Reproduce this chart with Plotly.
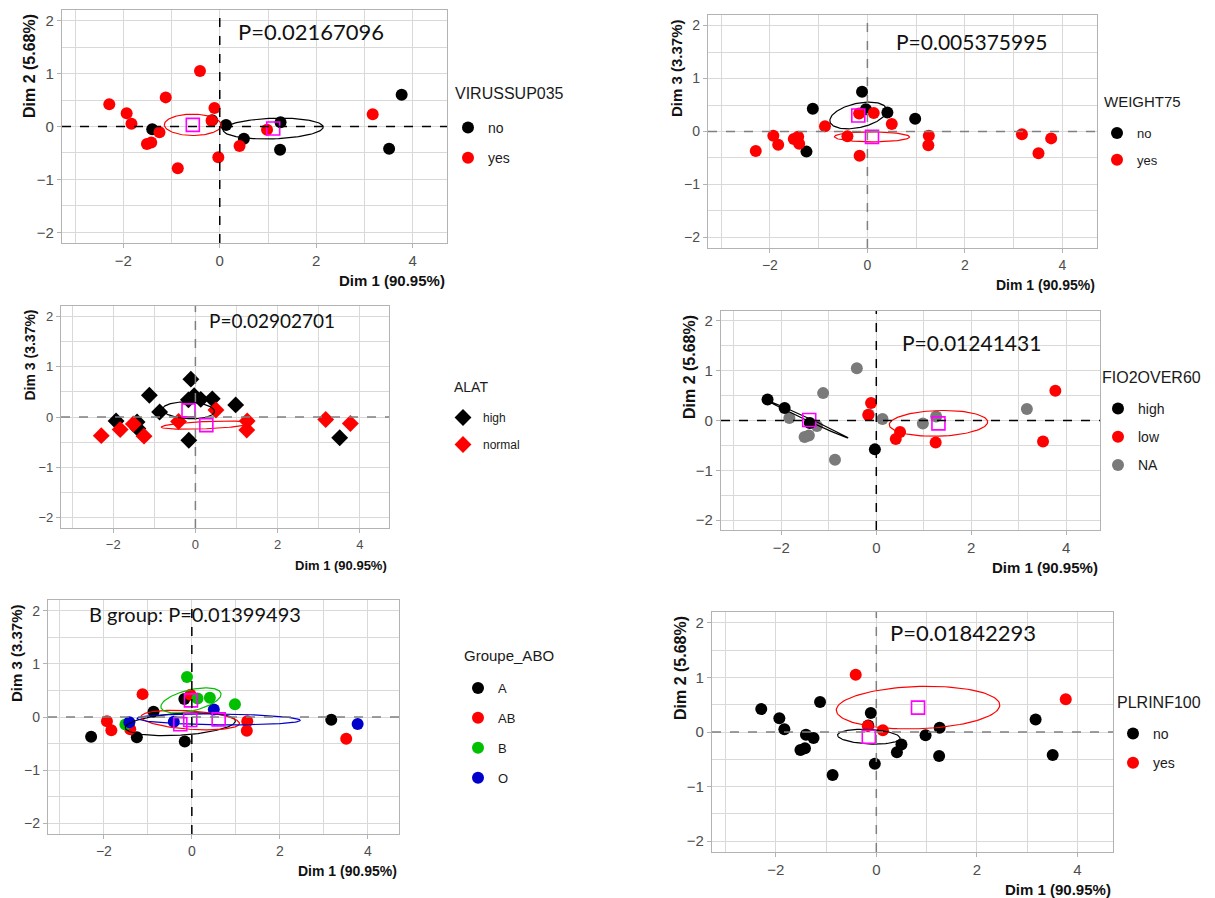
import numpy as np
import plotly.graph_objects as go

# ---------------- data: coordinates of the 23 individuals ----------------
dim1 = [-2.29, -1.93, -1.83, -1.51, -1.42, -1.40, -1.25, -1.12, -0.87, -0.41, -0.11, -0.17,
        -0.16, -0.03, 0.13, 0.41, 0.50, 0.98, 1.26, 1.25, 3.17, 3.51, 3.77]
dim2 = [0.42, 0.25, 0.05, -0.33, -0.30, -0.05, -0.11, 0.55, -0.79, 1.05, 0.35, 0.11,
        0.12, -0.58, 0.03, -0.37, -0.23, -0.06, 0.08, -0.44, 0.23, -0.42, 0.60]
dim3 = [-0.37, -0.08, -0.25, -0.14, -0.10, -0.23, -0.38, 0.43, 0.10, -0.09, 0.75, 0.34,
        -0.46, 0.42, 0.35, 0.36, 0.14, 0.24, -0.08, -0.26, -0.05, -0.41, -0.13]

# ---------------- data: group of each individual per variable ----------------
virussup035 = ["yes", "yes", "yes", "yes", "yes", "no", "yes", "yes", "yes", "yes", "yes", "yes",
               "no", "yes", "no", "yes", "no", "yes", "no", "no", "yes", "no", "no"]
weight75 = ["yes", "yes", "yes", "yes", "yes", "yes", "no", "no", "yes", "yes", "no", "yes",
            "yes", "no", "yes", "no", "yes", "no", "yes", "yes", "yes", "yes", "yes"]
alat = ["normal", "high", "normal", "normal", "high", "high", "normal", "high", "high", "normal",
        "high", "high", "high", "high", "high", "high", "normal", "high", "normal", "normal",
        "normal", "high", "normal"]
fio2over60 = ["high", "high", "NA", "NA", "NA", "high", "NA", "NA", "NA", "NA", "low", "low",
              "NA", "high", "NA", "low", "low", "NA", "NA", "low", "NA", "low", "low"]
groupe_abo = ["A", "AB", "AB", "B", "O", "AB", "A", "AB", "A", "O", "B", "A", "A", "AB", "B", "B",
              "O", "B", "AB", "AB", "A", "AB", "O"]
plrinf100 = ["no", "no", "no", "no", "no", "no", "no", "no", "no", "yes", "no", "yes", "no", "no",
             "yes", "no", "no", "no", "no", "no", "no", "no", "yes"]

p_labels = ["P=0.02167096", "P=0.005375995", "P=0.02902701", "P=0.01241431",
            "B group: P=0.01399493", "P=0.01842293"]

dim_titles = {"dim1": "Dim 1 (90.95%)", "dim2": "Dim 2 (5.68%)", "dim3": "Dim 3 (3.37%)"}
dims = {"dim1": dim1, "dim2": dim2, "dim3": dim3}

# ---------------- styling / layout constants ----------------
W, H = 1215, 898
ELLIPSE_SCALE = 1.65
X_RANGE = [-3.27, 4.71]
Y_RANGE = [-2.2, 2.2]
RED, BLACK, GREY = "#ff0000", "#000000", "#7a7a7a"
GREEN, BLUE = "#00c000", "#0000cd"
MAGENTA = "#ff00ff"
GRID = "#d9d9d9"
BORDER = "#b3b3b3"
FONT = "Liberation Sans, Arial, sans-serif"

# leg = (title left x, title centre y, legend left x, first item y, item gap)
panels = [
    dict(ydim="dim2", var="VIRUSSUP035", groups=virussup035, cats=["no", "yes"],
         colors={"no": BLACK, "yes": RED}, ell=["no", "yes"], symbol="circle", fs=1.0,
         box=(62, 447, 10, 243), ptxt=(0.34, 1.79), zl=(BLACK, BLACK),
         leg=(453, 93, 448, 127, 9)),
    dict(ydim="dim3", var="WEIGHT75", groups=weight75, cats=["no", "yes"],
         colors={"no": BLACK, "yes": RED}, ell=["no", "yes"], symbol="circle", fs=0.96,
         box=(708, 1097, 15, 248), ptxt=(0.55, 1.70), zl=("#808080", "#808080"),
         leg=(1102, 101, 1097, 133, 7)),
    dict(ydim="dim3", var="ALAT", groups=alat, cats=["high", "normal"],
         colors={"high": BLACK, "normal": RED}, ell=["high", "normal"], symbol="diamond", fs=0.85,
         box=(61, 389, 306, 528), ptxt=(0.27, 1.92), zl=("#808080", "#808080"),
         leg=(452, 387, 443, 418, 8)),
    dict(ydim="dim2", var="FIO2OVER60", groups=fio2over60, cats=["high", "low", "NA"],
         colors={"high": BLACK, "low": RED, "NA": GREY}, ell=["high", "low"], symbol="circle",
         fs=0.97, box=(721, 1100, 311, 530), ptxt=(0.50, 1.56), zl=(BLACK, BLACK),
         leg=(1100, 377, 1098, 408, 7)),
    dict(ydim="dim3", var="Groupe_ABO", groups=groupe_abo, cats=["A", "AB", "B", "O"],
         colors={"A": BLACK, "AB": RED, "B": GREEN, "O": BLUE}, ell=["A", "AB", "B", "O"],
         symbol="circle", fs=0.91, box=(48, 399, 600, 834), ptxt=(-2.39, 1.93),
         zl=(BLACK, "#808080"), leg=(462, 655, 458, 688, 10)),
    dict(ydim="dim2", var="PLRINF100", groups=plrinf100, cats=["no", "yes"],
         colors={"no": BLACK, "yes": RED}, ell=["no", "yes"], symbol="circle", fs=1.0,
         box=(712, 1113, 612, 852), ptxt=(0.24, 1.82), zl=("#808080", "#808080"),
         leg=(1115, 702, 1113, 733, 8)),
]


def conf_ellipse(x, y, k=ELLIPSE_SCALE, n=120):
    x = np.asarray(x, float)
    y = np.asarray(y, float)
    cov = np.cov(x, y) / len(x)
    vals, vecs = np.linalg.eigh(cov)
    vals = np.clip(vals, 0, None)
    t = np.linspace(0, 2 * np.pi, n)
    circ = np.vstack([np.cos(t), np.sin(t)])
    pts = vecs @ (np.sqrt(vals)[:, None] * circ) * k
    return x.mean() + pts[0], y.mean() + pts[1]


fig = go.Figure()
annotations = []
shapes = []
layout = {}

for i, p in enumerate(panels, start=1):
    sfx = "" if i == 1 else str(i)
    xa, ya = "x" + sfx, "y" + sfx
    leg = "legend" + sfx
    l, r, t, b = p["box"]
    fs = p["fs"]
    xs = np.array(dim1)
    ys = np.array(dims[p["ydim"]])
    grp = np.array(p["groups"])

    # points (NA first so that it lies underneath)
    order = sorted(range(len(p["cats"])), key=lambda j: 0 if p["cats"][j] == "NA" else 1)
    for j in order:
        c = p["cats"][j]
        m = grp == c
        fig.add_trace(go.Scatter(
            x=xs[m], y=ys[m], mode="markers", name=c, xaxis=xa, yaxis=ya,
            legend=leg, legendgroup=f"p{i}_{c}", legendrank=j + 1,
            marker=dict(color=p["colors"][c], size=13 if p["symbol"] == "diamond" else 12,
                        symbol=p["symbol"], line=dict(width=0)),
            hoverinfo="skip"))
    # ellipses
    for c in p["ell"]:
        m = grp == c
        ex, ey = conf_ellipse(xs[m], ys[m])
        fig.add_trace(go.Scatter(x=ex, y=ey, mode="lines", xaxis=xa, yaxis=ya,
                                 line=dict(color=p["colors"][c], width=1.2),
                                 showlegend=False, hoverinfo="skip"))
    # group means
    mx = [xs[grp == c].mean() for c in p["ell"]]
    my = [ys[grp == c].mean() for c in p["ell"]]
    fig.add_trace(go.Scatter(x=mx, y=my, mode="markers", xaxis=xa, yaxis=ya,
                             marker=dict(symbol="square-open", size=13, color=MAGENTA,
                                         line=dict(width=1.6, color=MAGENTA)),
                             showlegend=False, hoverinfo="skip"))

    axis_common = dict(showline=True, mirror=True, linecolor=BORDER, linewidth=1.3,
                       showgrid=True, gridcolor=GRID, gridwidth=1.2, zeroline=False,
                       ticks="outside", ticklen=4, tickcolor=BORDER,
                       tickfont=dict(family=FONT, size=round(15 * fs), color="#4d4d4d"))
    layout["xaxis" + sfx] = dict(domain=[l / W, r / W], range=X_RANGE, anchor=ya,
                                 tickvals=[-2, 0, 2, 4],
                                 minor=dict(tickvals=[-3, -1, 1, 3], showgrid=True,
                                            gridcolor=GRID, gridwidth=0.7, ticks=""),
                                 **axis_common)
    layout["yaxis" + sfx] = dict(domain=[1 - b / H, 1 - t / H], range=Y_RANGE, anchor=xa,
                                 tickvals=[-2, -1, 0, 1, 2],
                                 minor=dict(tickvals=[-1.5, -0.5, 0.5, 1.5], showgrid=True,
                                            gridcolor=GRID, gridwidth=0.7, ticks=""),
                                 **axis_common)
    tx, ty, lx, iy, gap = p["leg"]
    layout[leg] = dict(x=lx / W, y=1 - (iy - 15) / H, xanchor="left", yanchor="top",
                       bgcolor="rgba(0,0,0,0)", tracegroupgap=gap, traceorder="grouped",
                       font=dict(family=FONT, size=round(14 * fs), color="#1a1a1a"))
    annotations.append(dict(text=p["var"], xref="paper", yref="paper", x=tx / W, y=1 - ty / H,
                            xanchor="left", yanchor="middle", showarrow=False,
                            font=dict(family=FONT, size=round(16 * fs), color="#1a1a1a")))

    # reference lines at 0
    shapes.append(dict(type="line", xref=xa, yref=ya + " domain", x0=0, x1=0, y0=0, y1=1,
                       line=dict(color=p["zl"][0], width=1.5, dash="dash"), layer="above"))
    shapes.append(dict(type="line", xref=xa + " domain", yref=ya, x0=0, x1=1, y0=0, y1=0,
                       line=dict(color=p["zl"][1], width=1.5, dash="dash"), layer="above"))

    # P-value text
    annotations.append(dict(text=p_labels[i - 1], xref=xa, yref=ya, x=p["ptxt"][0], y=p["ptxt"][1],
                            xanchor="left", yanchor="middle", showarrow=False,
                            font=dict(family="Lato, Open Sans, sans-serif", size=round(22 * fs),
                                      color="#111111")))
    # axis titles
    annotations.append(dict(text="<b>" + dim_titles["dim1"] + "</b>", xref="paper", yref="paper",
                            x=r / W, y=1 - (b + 37) / H, xanchor="right", yanchor="middle",
                            showarrow=False, font=dict(family=FONT, size=round(15 * fs), color="#111111")))
    annotations.append(dict(text="<b>" + dim_titles[p["ydim"]] + "</b>", xref="paper", yref="paper",
                            x=(l - 32) / W, y=1 - (t + 2) / H, xanchor="center", yanchor="top",
                            textangle=-90, showarrow=False,
                            font=dict(family=FONT, size=round(16 * fs), color="#111111")))

fig.update_layout(width=W, height=H, margin=dict(l=0, r=0, t=0, b=0),
                  paper_bgcolor="white", plot_bgcolor="white",
                  annotations=annotations, shapes=shapes, **layout)

fig.write_html("out.html")
